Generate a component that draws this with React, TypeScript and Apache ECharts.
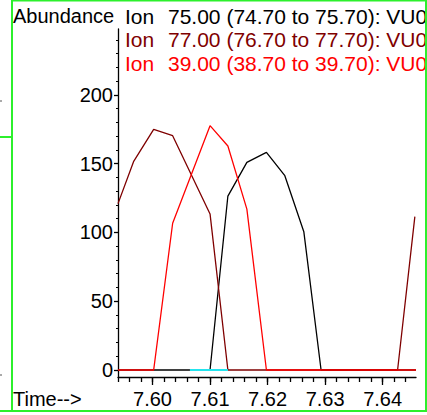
import React, { useEffect, useRef } from 'react';
import * as echarts from 'echarts';

// Ion traces: [retention time (min), abundance]
const ion75: number[][] = [
  [7.594, 0], [7.61, 0], [7.6131, 126.5], [7.6164, 151], [7.6198, 158.3],
  [7.623, 141.3], [7.6263, 100.6], [7.6293, 0], [7.6458, 0],
];
const ion77: number[][] = [
  [7.594, 121], [7.5967, 151.5], [7.6002, 175], [7.6035, 170.4], [7.61, 113.5],
  [7.6131, 0], [7.6426, 0], [7.6456, 111.5],
];
const ion39: number[][] = [
  [7.594, 0], [7.6002, 0], [7.6035, 106.7], [7.61, 177.7], [7.6131, 162.9],
  [7.6164, 117], [7.6198, 0], [7.6458, 0],
];
const integrationMark: number[][] = [[7.6065, 0], [7.6131, 0]];
const peakTime = 7.6198;

const xLabels = [7.6, 7.61, 7.62, 7.63, 7.64];
const yLabels = [0, 50, 100, 150, 200];
const legendLines = [
  { ion: 'Ion', text: '75.00 (74.70 to 75.70): VU0', color: '#000000' },
  { ion: 'Ion', text: '77.00 (76.70 to 77.70): VU0', color: '#7f0000' },
  { ion: 'Ion', text: '39.00 (38.70 to 39.70): VU0', color: '#ff0000' },
];

const X_MIN = 7.594;
const X_MAX = 7.6458;
const Y_MIN = -5.1;
const Y_MAX = 248;

const xMinorTicks: number[] = [];
for (let i = 0; i <= 25; i++) xMinorTicks.push(+(X_MIN + i * 0.002).toFixed(3));
const yMinorTicks: number[] = [];
for (let v = 0; v <= 240; v += 10) yMinorTicks.push(v);

const FONT = "'Liberation Sans', Arial, sans-serif";
const GREEN = '#2cf02c';

export default function App() {
  const ref = useRef<HTMLDivElement>(null);
  useEffect(() => {
    document.body.style.margin = '0';
    const chart = echarts.init(ref.current!, null, { renderer: 'svg' });
    const lineSeries = (name: string, data: any[], color: string, z: number, extra: any = {}) => ({
      name,
      type: 'line',
      data,
      xAxisIndex: 0,
      yAxisIndex: 0,
      symbol: 'none',
      lineStyle: { color, width: 1.3 },
      itemStyle: { color },
      z,
      ...extra,
    });
    const graphics: any[] = [
      { type: 'rect', shape: { x: 12, y: 0.5, width: 414, height: 410.5 }, style: { fill: 'none', stroke: GREEN, lineWidth: 2 }, z: 100 },
      { type: 'line', shape: { x1: 0, y1: 411, x2: 12, y2: 411 }, style: { stroke: GREEN, lineWidth: 2 }, z: 100 },
      { type: 'line', shape: { x1: 0, y1: 137, x2: 12, y2: 137 }, style: { stroke: GREEN, lineWidth: 2 }, z: 100 },
      { type: 'line', shape: { x1: 0, y1: 101, x2: 2, y2: 101 }, style: { stroke: '#555', lineWidth: 1 } },
      { type: 'line', shape: { x1: 0, y1: 375, x2: 2, y2: 375 }, style: { stroke: '#555', lineWidth: 1 } },
      { type: 'text', x: 13, y: 16, style: { text: 'Abundance', fill: '#000', font: `20px ${FONT}`, verticalAlign: 'middle' } },
      { type: 'text', x: 13, y: 399, style: { text: 'Time-->', fill: '#000', font: `20px ${FONT}`, verticalAlign: 'middle' } },
    ];
    legendLines.forEach((l, i) => {
      const y = 16 + i * 23.5;
      graphics.push({ type: 'text', x: 125, y, style: { text: l.ion, fill: l.color, font: `21px ${FONT}`, verticalAlign: 'middle' } });
      graphics.push({ type: 'text', x: 168, y, style: { text: l.text, fill: l.color, font: `21px ${FONT}`, verticalAlign: 'middle' } });
    });

    chart.setOption({
      animation: false,
      backgroundColor: '#ffffff',
      grid: { left: 118, top: 29, width: 298, height: 348, containLabel: false },
      xAxis: [
        {
          type: 'value', min: X_MIN, max: X_MAX, position: 'bottom',
          axisLine: { show: true, onZero: false, lineStyle: { color: '#000', width: 1.3 } },
          axisTick: { show: true, customValues: xLabels, length: 8, lineStyle: { color: '#000', width: 1.3 } },
          axisLabel: { show: true, customValues: xLabels, formatter: (v: number) => v.toFixed(2), fontSize: 20, fontFamily: FONT, color: '#000', margin: 12 },
          splitLine: { show: false },
        },
        {
          type: 'value', min: X_MIN, max: X_MAX, position: 'bottom', offset: 0,
          axisLine: { show: false, onZero: false },
          axisTick: { show: true, customValues: xMinorTicks, length: 5, lineStyle: { color: '#000', width: 1.3 } },
          axisLabel: { show: false },
          splitLine: { show: false },
        },
      ],
      yAxis: [
        {
          type: 'value', min: Y_MIN, max: Y_MAX, position: 'left',
          axisLine: { show: true, onZero: false, lineStyle: { color: '#000', width: 1.3 } },
          axisTick: { show: true, customValues: yLabels, length: 4, lineStyle: { color: '#000', width: 1.3 } },
          axisLabel: { show: true, customValues: yLabels, fontSize: 20, fontFamily: FONT, color: '#000', margin: 5 },
          splitLine: { show: false },
        },
        {
          type: 'value', min: Y_MIN, max: Y_MAX, position: 'left', offset: 0,
          axisLine: { show: false, onZero: false },
          axisTick: { show: true, customValues: yMinorTicks, length: 2, lineStyle: { color: '#000', width: 1 } },
          axisLabel: { show: false },
          splitLine: { show: false },
        },
      ],
      series: [
        lineSeries('Ion 75.00', ion75.map((p) => p[0] === peakTime ? {
          value: p,
          label: { show: true, position: 'top', distance: 4, offset: [5, 0], formatter: () => peakTime.toFixed(2), fontSize: 20, fontFamily: FONT, color: '#000' },
        } : p), '#000000', 2),
        lineSeries('Ion 77.00', ion77, '#7f0000', 3),
        lineSeries('Ion 39.00', ion39, '#ff0000', 4),
        lineSeries('Integration', integrationMark, '#22e4ee', 5, { lineStyle: { color: '#22e4ee', width: 2 } }),
      ],
      graphic: graphics,
    });
    return () => chart.dispose();
  }, []);
  return <div ref={ref} style={{ width: 427, height: 415, overflow: 'hidden' }} />;
}
